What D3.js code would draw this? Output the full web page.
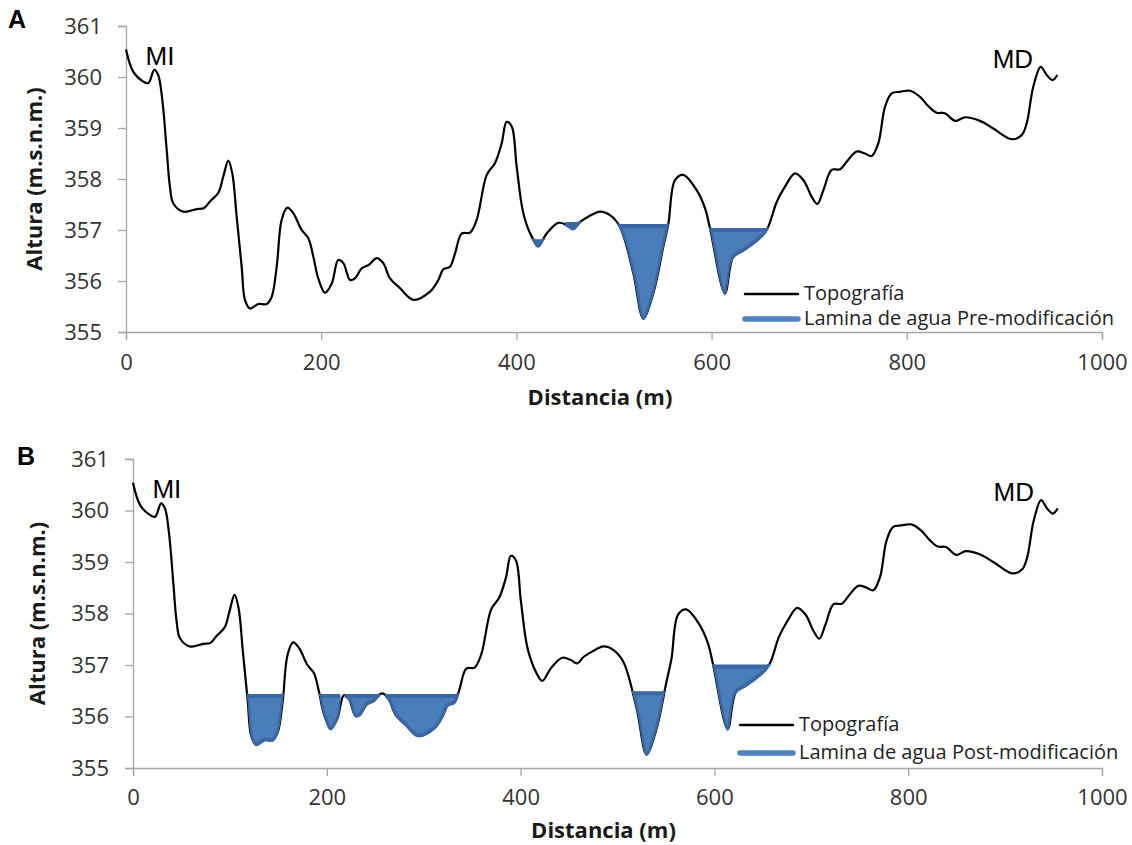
<!DOCTYPE html>
<html>
<head>
<meta charset="utf-8">
<script src="https://cdn.jsdelivr.net/npm/d3@7"></script>
<style>
  body { margin: 0; background: #fff; }
  svg { display: block; }
  .tick text { font-family: "Open Sans", Lato, sans-serif; font-size: 22px; fill: #333; }
</style>
</head>
<body>
<svg id="chart" width="1132" height="845"></svg>
<script>
// perfil topografico (distancia m, altura m.s.n.m.)
var topoX = [0, 7.5, 17.7, 22.9, 29, 33, 37.2, 41.7, 45, 48.5, 58.7, 72.4, 80, 86, 94.6, 99.7, 104.8, 108.9,
  113.4, 118.5, 121.9, 127, 135.6, 144.2, 149.3, 154.4, 159.5, 165.3, 171.4, 180, 186.8, 191.9, 197, 203.9,
  210.8, 217.5, 222.7, 229.5, 234.6, 241.5, 248.3, 256.9, 263.6, 270.5, 280.7, 294.4, 311.5, 320, 325.1,
  332, 337.1, 343.9, 352.5, 359.3, 369.6, 378, 384.9, 390, 395.2, 400.3, 407.1, 415.7, 422.4, 431, 442.9,
  451.5, 458.3, 465.2, 473.7, 485.7, 495.9, 506.1, 519.8, 530, 540.3, 550.5, 555.7, 562.5, 571, 584.7,
  593.2, 598.4, 613.7, 622.2, 632.5, 646.2, 656.4, 666.7, 675.2, 685.4, 694, 702.6, 708.3, 714.5, 723,
  731.6, 738.4, 748.6, 757.2, 764, 770.8, 777.7, 784.5, 793, 803.3, 813.5, 822, 830.6, 839, 849.4, 859.6,
  875, 888.6, 907.5, 917.7, 922.8, 929.6, 937.2, 943.3, 949.3, 954.2];
var topoY = [360.54, 360.10, 359.91, 359.88, 360.14, 360.04, 359.55, 358.57, 357.85, 357.52, 357.36, 357.41,
  357.43, 357.56, 357.73, 358.05, 358.36, 358.11, 357.26, 356.28, 355.63, 355.46, 355.55, 355.55, 355.69,
  356.28, 357.2, 357.44, 357.33, 357.0, 356.84, 356.48, 356.05, 355.77, 355.95, 356.41, 356.35, 356.02,
  356.05, 356.25, 356.31, 356.45, 356.35, 356.05, 355.86, 355.63, 355.79, 356.02, 356.23, 356.28, 356.54,
  356.93, 356.95, 357.2, 358.08, 358.31, 358.7, 359.12, 359.03, 358.24, 357.33, 356.87, 356.69, 356.93,
  357.14, 357.1, 357.03, 357.16, 357.26, 357.36, 357.29, 357.06, 356.15, 355.27, 355.76, 356.67, 357.12,
  357.98, 358.08, 357.78, 357.43, 357.03, 355.76, 356.48, 356.61, 356.8, 357.0, 357.55, 357.85, 358.11,
  357.98, 357.65, 357.51, 357.78, 358.18, 358.19, 358.34, 358.54, 358.5, 358.45, 358.7, 359.42, 359.68,
  359.71, 359.73, 359.61, 359.43, 359.3, 359.29, 359.14, 359.21, 359.14, 358.99, 358.78, 358.86, 359.09,
  359.81, 360.2, 360.04, 359.94, 360.04];

// lamina de agua: [inicio, fin, nivel]
var waterPre = [[415, 430, 356.78], [450, 466, 357.12], [503, 558, 357.08], [596, 660, 357.0]];
var waterPost = [[111, 158, 356.4], [189, 214, 356.4], [218.5, 255, 356.4], [260, 342, 356.4],
  [511, 554, 356.45], [595, 660, 356.97]];

var xTicks = [0, 200, 400, 600, 800, 1000];
var yTicks = [355, 356, 357, 358, 359, 360, 361];
var legendNames = ["Topografía"];

var topo = topoX.map(function(d, i) { return [d, topoY[i]]; });

var svg = d3.select("#chart");
var font = "'Open Sans', Lato, sans-serif";

var panels = [
  { name: "A", water: waterPre, label: "Lamina de agua Pre-modificación",
    left: 126, right: 1102, top: 26, bottom: 332, xPad: 14, letterX: 8, letterY: 28,
    xTitleY: 405, yTitleX: 42, legX: 745, legY: 294, legGap: 25 },
  { name: "B", water: waterPost, label: "Lamina de agua Post-modificación",
    left: 133, right: 1102, top: 459, bottom: 768, xPad: 13, letterX: 17, letterY: 465,
    xTitleY: 838, yTitleX: 45, legX: 740, legY: 725, legGap: 28 }
];

panels.forEach(drawPanel);

function drawPanel(p) {
  var x = d3.scaleLinear().domain([0, 1000]).range([p.left, p.right]);
  var y = d3.scaleLinear().domain([355, 361]).range([p.bottom, p.top]);
  var g = svg.append("g");

  // ejes
  g.append("g")
    .attr("transform", "translate(0," + p.bottom + ")")
    .call(d3.axisBottom(x).tickValues(xTicks).tickSize(8).tickPadding(p.xPad).tickFormat(d3.format("d")));
  g.append("g")
    .attr("transform", "translate(" + p.left + ",0)")
    .call(d3.axisLeft(y).tickValues(yTicks).tickSize(8).tickPadding(16).tickFormat(d3.format("d")));
  g.selectAll(".domain, .tick line").attr("stroke", "#a6a6a6").attr("stroke-width", 1.3);

  var curve = d3.curveCatmullRom.alpha(0.5);
  var line = d3.line().x(function(d) { return x(d[0]); }).y(function(d) { return y(d[1]); }).curve(curve);

  g.append("path")
    .datum(topo)
    .attr("d", line)
    .attr("fill", "none")
    .attr("stroke", "#000")
    .attr("stroke-width", 2.2);

  // zona por encima del terreno (para recortar el agua)
  var aboveId = "above" + p.name;
  g.append("clipPath").attr("id", aboveId)
    .append("path")
    .datum(topo)
    .attr("d", d3.area()
      .x(function(d) { return x(d[0]); })
      .y0(p.top - 10)
      .y1(function(d) { return y(d[1]) + 2.5; })
      .curve(curve));

  // lamina de agua encima de la topografia
  p.water.forEach(function(w, i) {
    var id = "clip" + p.name + i;
    g.append("clipPath").attr("id", id)
      .append("rect")
      .attr("x", x(w[0]))
      .attr("width", x(w[1]) - x(w[0]))
      .attr("y", y(w[2]) - 2.5)
      .attr("height", p.bottom - y(w[2]) + 2.5);
    var area = d3.area()
      .x(function(d) { return x(d[0]); })
      .y0(y(w[2]))
      .y1(function(d) { return y(d[1]); })
      .curve(curve);
    g.append("g")
      .attr("clip-path", "url(#" + id + ")")
      .append("path")
      .datum(topo)
      .attr("d", area)
      .attr("clip-path", "url(#" + aboveId + ")")
      .attr("fill", "#4a7ebb")
      .attr("stroke", "#3b67a2")
      .attr("stroke-width", 4)
      .attr("stroke-linejoin", "round");
  });

  // MI / MD
  g.append("text").attr("x", x(20)).attr("y", y(360.24))
    .attr("font-family", "Liberation Sans, Arial, sans-serif").attr("font-size", 26).text("MI");
  g.append("text").attr("x", x(888)).attr("y", y(360.18))
    .attr("font-family", "Liberation Sans, Arial, sans-serif").attr("font-size", 26).text("MD");

  // letra del panel
  g.append("text").attr("x", p.letterX).attr("y", p.letterY)
    .attr("font-family", "Liberation Sans, Arial, sans-serif").attr("font-weight", "bold")
    .attr("font-size", 25).text(p.name);

  // titulos de ejes
  g.append("text")
    .attr("x", (p.left + p.right) / 2 - 14).attr("y", p.xTitleY)
    .attr("text-anchor", "middle")
    .attr("font-family", font).attr("font-weight", "bold").attr("font-size", 22)
    .attr("fill", "#1a1a1a")
    .text("Distancia (m)");
  g.append("text")
    .attr("transform", "translate(" + p.yTitleX + "," + (p.top + p.bottom) / 2 + ") rotate(-90)")
    .attr("text-anchor", "middle")
    .attr("font-family", font).attr("font-weight", "bold").attr("font-size", 22)
    .attr("fill", "#1a1a1a")
    .text("Altura (m.s.n.m.)");

  // leyenda
  var leg = g.append("g").attr("transform", "translate(" + p.legX + "," + p.legY + ")");
  var items = [
    { name: legendNames[0], color: "#000", width: 2.5 },
    { name: p.label, color: "#4f81bd", width: 5.5 }
  ];
  items.forEach(function(it, i) {
    leg.append("line")
      .attr("x1", 0).attr("x2", 53)
      .attr("y1", i * p.legGap).attr("y2", i * p.legGap)
      .attr("stroke", it.color).attr("stroke-width", it.width).attr("stroke-linecap", "round");
    leg.append("text")
      .attr("x", 59).attr("y", i * p.legGap + 6)
      .attr("font-family", font).attr("font-size", 20).attr("fill", "#222")
      .text(it.name);
  });
}
</script>
</body>
</html>
